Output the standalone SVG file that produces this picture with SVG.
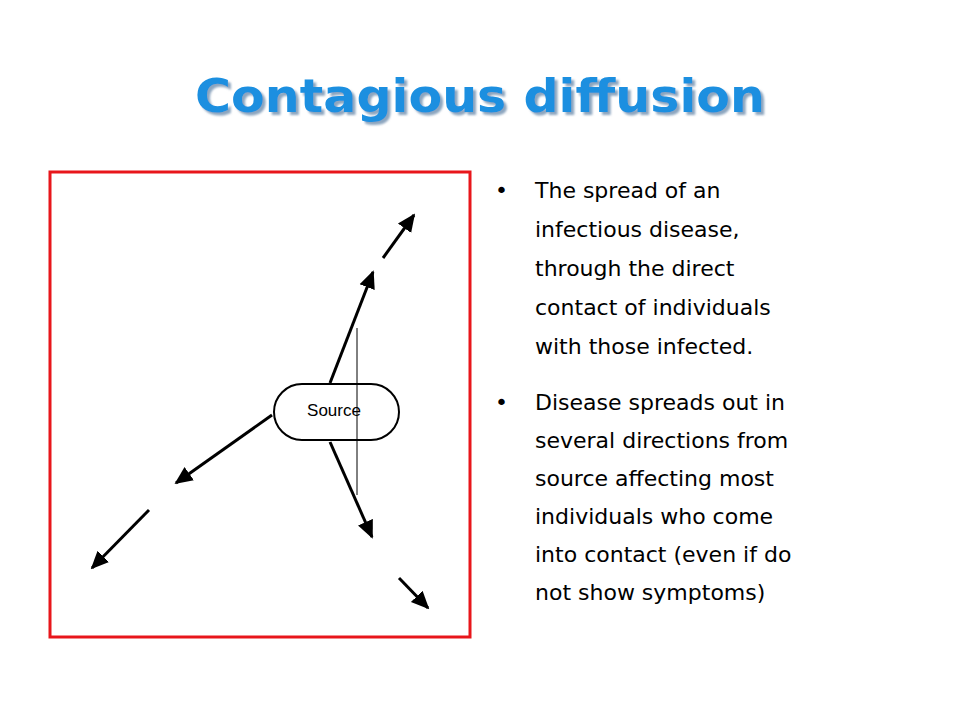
<svg xmlns="http://www.w3.org/2000/svg" width="960" height="720" viewBox="0 0 960 720">
<defs>
<marker id="ah" viewBox="0 0 10 10" refX="9" refY="5" markerWidth="6" markerHeight="6" orient="auto" markerUnits="strokeWidth"><path d="M0,0.5 L10,5 L0,9.5 Z" fill="#000"/></marker>
<filter id="sh" x="-5%" y="-20%" width="110%" height="140%"><feDropShadow dx="3" dy="3" stdDeviation="1" flood-color="#6f8faf" flood-opacity="0.8"/></filter>
</defs>
<style>
.c{stroke:#000;stroke-width:3;fill:none;marker-end:url(#ah)}
.b{font-family:"DejaVu Sans",sans-serif;font-size:22px;fill:#000}
</style>
<rect width="960" height="720" fill="#fff"/>
<text x="480" y="112" text-anchor="middle" font-family="DejaVu Sans,sans-serif" font-weight="bold" font-size="46" fill="#1a8fe0" textLength="570" lengthAdjust="spacingAndGlyphs" filter="url(#sh)">Contagious diffusion</text>
<rect x="50" y="172" width="420" height="465" fill="#fff" stroke="#e8161b" stroke-width="3"/>
<g id="connectors">
<path class="c" d="M330,383 L373,272"/>
<path class="c" d="M383,258 L414,215"/>
<path class="c" d="M272,415 L176,483"/>
<path class="c" d="M149,510 L92,568"/>
<path class="c" d="M330,442 L372,537"/>
<path class="c" d="M399,578 L428,608"/>
<path d="M357,328 L357,495" stroke="#000" stroke-width="1"/>
</g>
<g id="source">
<rect x="274" y="384" width="125" height="56" rx="28" fill="none" stroke="#000" stroke-width="2"/>
<text x="334" y="416" text-anchor="middle" font-family="Liberation Sans,sans-serif" font-size="17">Source</text>
</g>
<g id="bullets">
<text class="b" x="495" y="198">•</text>
<text class="b" x="535" y="198">The spread of an</text>
<text class="b" x="535" y="237">infectious disease,</text>
<text class="b" x="535" y="276">through the direct</text>
<text class="b" x="535" y="315">contact of individuals</text>
<text class="b" x="535" y="354">with those infected.</text>
<text class="b" x="495" y="410">•</text>
<text class="b" x="535" y="410">Disease spreads out in</text>
<text class="b" x="535" y="448">several directions from</text>
<text class="b" x="535" y="486">source affecting most</text>
<text class="b" x="535" y="524">individuals who come</text>
<text class="b" x="535" y="562">into contact (even if do</text>
<text class="b" x="535" y="600">not show symptoms)</text>
</g>
</svg>
